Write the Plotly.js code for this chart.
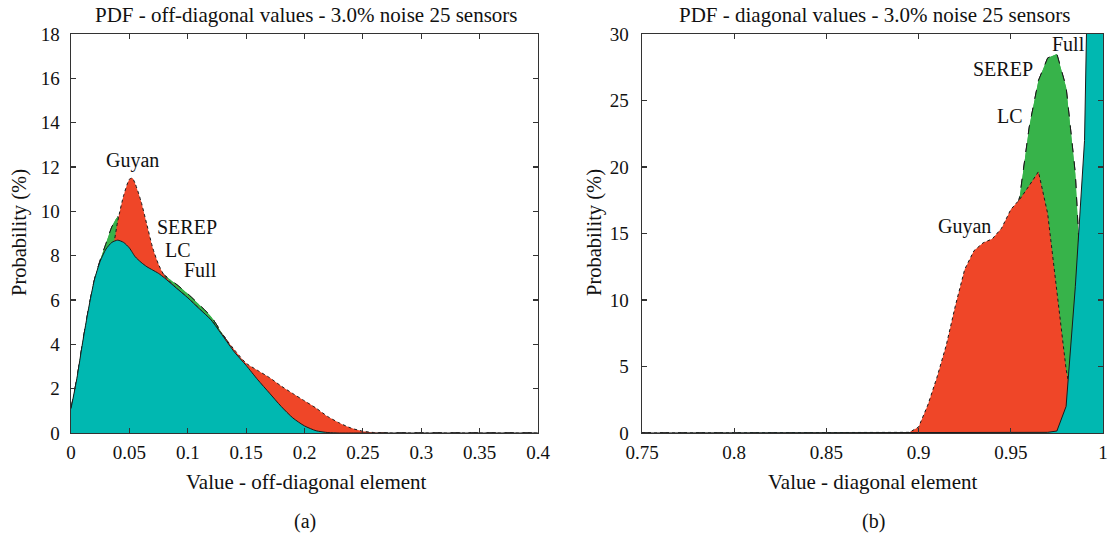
<!DOCTYPE html>
<html>
<head>
<meta charset="utf-8">
<script src="https://cdn.plot.ly/plotly-3.0.1.min.js"></script>
<style>html,body{margin:0;padding:0;background:#fff;}#chart{width:1110px;height:536px;}</style>
</head>
<body>
<div id="chart"></div>
<script>
// ---- (a) off-diagonal values ----
const xOff = [0, 0.005, 0.01, 0.015, 0.02, 0.025, 0.03, 0.035, 0.04, 0.045, 0.05, 0.0525, 0.055, 0.06, 0.065, 0.07, 0.075, 0.08, 0.09, 0.1, 0.11, 0.12, 0.13, 0.14, 0.15, 0.16, 0.17, 0.18, 0.19, 0.2, 0.21, 0.22, 0.23, 0.24, 0.25, 0.26, 0.27, 0.3, 0.35, 0.4];
const fullOff  = [1.1, 2.45, 4.1, 5.6, 6.9, 7.75, 8.3, 8.6, 8.7, 8.6, 8.35, 8.15, 7.95, 7.7, 7.5, 7.35, 7.2, 7.0, 6.55, 6.1, 5.6, 5.1, 4.38, 3.65, 3.05, 2.4, 1.8, 1.2, 0.68, 0.32, 0.1, 0.02, 0, 0, 0, 0, 0, 0, 0, 0];
const serepOff = [1.1, 2.45, 4.1, 5.6, 6.9, 7.8, 8.55, 9.3, 9.75, 9.5, 8.9, 8.6, 8.3, 7.9, 7.65, 7.45, 7.3, 7.12, 6.72, 6.28, 5.78, 5.25, 4.45, 3.67, 3.07, 2.42, 1.82, 1.22, 0.7, 0.33, 0.11, 0.02, 0, 0, 0, 0, 0, 0, 0, 0];
const lcOff    = [1.1, 2.45, 4.1, 5.6, 6.9, 7.8, 8.55, 9.3, 9.75, 9.5, 8.9, 8.6, 8.3, 7.9, 7.65, 7.45, 7.3, 7.12, 6.72, 6.28, 5.78, 5.25, 4.45, 3.67, 3.07, 2.42, 1.82, 1.22, 0.7, 0.33, 0.11, 0.02, 0, 0, 0, 0, 0, 0, 0, 0];
const guyanOff = [1.0, 2.3, 3.9, 5.4, 6.6, 7.4, 7.9, 8.2, 9.55, 10.7, 11.45, 11.5, 11.25, 10.45, 9.4, 8.35, 7.6, 7.1, 6.55, 6.1, 5.6, 5.1, 4.42, 3.75, 3.15, 2.82, 2.5, 2.12, 1.78, 1.45, 1.12, 0.74, 0.45, 0.22, 0.08, 0.02, 0, 0, 0, 0];
const ticksOffX = [0, 0.05, 0.1, 0.15, 0.2, 0.25, 0.3, 0.35, 0.4];
const ticksOffY = [0, 2, 4, 6, 8, 10, 12, 14, 16, 18];

// ---- (b) diagonal values ----
const xDiag = [0.75, 0.8, 0.85, 0.885, 0.89, 0.895, 0.9, 0.905, 0.91, 0.915, 0.92, 0.925, 0.93, 0.935, 0.94, 0.945, 0.95, 0.955, 0.96, 0.965, 0.97, 0.975, 0.98, 0.985, 0.99, 0.995, 1.0];
const fullDiag  = [0, 0, 0, 0, 0, 0, 0, 0, 0, 0, 0, 0, 0, 0, 0, 0, 0, 0, 0, 0, 0.05, 0.15, 2.0, 11.0, 22.0, 60, 90];
const serepDiag = [0, 0, 0, 0, 0, 0, 0, 0, 0, 0, 0, 0, 1.0, 3.0, 6.0, 10.0, 14.5, 17.9, 23.0, 26.5, 28.2, 28.5, 26.0, 19.5, 6.0, 0, 0];
const lcDiag    = [0, 0, 0, 0, 0, 0, 0, 0, 0, 0, 0, 0, 1.0, 3.0, 6.0, 10.0, 14.5, 17.9, 23.0, 26.5, 28.2, 28.5, 26.0, 19.5, 6.0, 0, 0];
const guyanDiag = [0, 0, 0, 0, 0, 0.05, 0.45, 2.1, 4.2, 6.6, 9.6, 12.3, 13.7, 14.3, 14.6, 15.4, 16.8, 17.6, 18.6, 19.65, 16.5, 10.5, 4.8, 1.0, 0, 0, 0];
const ticksDiagX = [0.75, 0.8, 0.85, 0.9, 0.95, 1];
const ticksDiagXText = ['0.75', '0.8', '0.85', '0.9', '0.95', '1'];
const ticksDiagY = [0, 5, 10, 15, 20, 25, 30];

const titleA = 'PDF - off-diagonal values - 3.0% noise 25 sensors';
const titleB = 'PDF - diagonal values - 3.0% noise 25 sensors';
const xLabelA = 'Value - off-diagonal element';
const xLabelB = 'Value - diagonal element';
const yLabel = 'Probability (%)';

const TEAL = '#00b8b1', GREEN = '#37b34a', RED = '#ef4628', EDGE = '#1a1a1a';
const FONT = 'Liberation Serif, Times New Roman, serif';

function area(x, y, color, dash, xa, ya, name, shape) {
  return {x: x, y: y, type: 'scatter', mode: 'lines', fill: 'tozeroy', fillcolor: color,
    line: {color: EDGE, width: 1, dash: dash, shape: shape, smoothing: 0.6}, xaxis: xa, yaxis: ya, name: name, showlegend: false, hoverinfo: 'skip'};
}

const data = [
  area(xOff, serepOff, GREEN, 'dash', 'x', 'y', 'SEREP', 'spline'),
  area(xOff, lcOff, GREEN, 'dash', 'x', 'y', 'LC', 'spline'),
  area(xOff, guyanOff, RED, 'dot', 'x', 'y', 'Guyan', 'spline'),
  area(xOff, fullOff, TEAL, 'solid', 'x', 'y', 'Full', 'spline'),
  area(xDiag, serepDiag, GREEN, 'dash', 'x2', 'y2', 'SEREP', 'linear'),
  area(xDiag, lcDiag, GREEN, 'dash', 'x2', 'y2', 'LC', 'linear'),
  area(xDiag, guyanDiag, RED, 'dot', 'x2', 'y2', 'Guyan', 'linear'),
  area(xDiag, fullDiag, TEAL, 'solid', 'x2', 'y2', 'Full', 'linear')
];

const axBase = {showline: true, mirror: 'ticks', ticks: 'inside', ticklen: 5, tickwidth: 1.2, tickcolor: '#333',
  linecolor: '#333', linewidth: 1.4, showgrid: false, zeroline: false, ticklabeloverflow: 'allow',
  tickfont: {family: FONT, size: 19, color: '#111'}};

const W = 1110, H = 536;
const yDom = [1 - 433 / H, 1 - 34 / H];

function note(text, xref, yref, x, y, size, angle) {
  return {text: text, xref: xref, yref: yref, x: x, y: y, xanchor: 'center', yanchor: 'middle',
    showarrow: false, textangle: angle || 0, font: {family: FONT, size: size, color: '#111'}};
}
const P = 'paper';

const layout = {
  width: W, height: H, margin: {l: 0, r: 0, t: 0, b: 0}, paper_bgcolor: '#fff', plot_bgcolor: '#fff',
  font: {family: FONT, size: 19, color: '#111'},
  xaxis: Object.assign({}, axBase, {domain: [71 / W, 538 / W], range: [0, 0.4], tickvals: ticksOffX, anchor: 'y', ticklabelstandoff: 2}),
  yaxis: Object.assign({}, axBase, {domain: yDom, range: [0, 18], tickvals: ticksOffY, anchor: 'x', ticklabelstandoff: 6}),
  xaxis2: Object.assign({}, axBase, {domain: [642 / W, 1103 / W], range: [0.75, 1.00001], tickvals: ticksDiagX, ticktext: ticksDiagXText, anchor: 'y2', ticklabelstandoff: 2}),
  yaxis2: Object.assign({}, axBase, {domain: yDom, range: [0, 30], tickvals: ticksDiagY, anchor: 'x2', ticklabelstandoff: 8}),
  annotations: [
    note(titleA, P, P, 306 / W, 1 - 15 / H, 21),
    note(titleB, P, P, 874 / W, 1 - 15 / H, 21),
    note(xLabelA, P, P, 306 / W, 1 - 482 / H, 21),
    note(xLabelB, P, P, 872 / W, 1 - 482 / H, 21),
    note(yLabel, P, P, 20 / W, 1 - 233 / H, 20.5, -90),
    note(yLabel, P, P, 595 / W, 1 - 233 / H, 20.5, -90),
    note('(a)', P, P, 305 / W, 1 - 521 / H, 20),
    note('(b)', P, P, 873 / W, 1 - 521 / H, 20),
    note('Guyan', 'x', 'y', 0.053, 12.3, 20),
    note('SEREP', 'x', 'y', 0.099, 9.3, 20),
    note('LC', 'x', 'y', 0.092, 8.25, 20),
    note('Full', 'x', 'y', 0.111, 7.35, 20),
    note('Full', 'x2', 'y2', 0.9815, 29.25, 20),
    note('SEREP', 'x2', 'y2', 0.946, 27.35, 20),
    note('LC', 'x2', 'y2', 0.9496, 23.8, 20),
    note('Guyan', 'x2', 'y2', 0.9249, 15.5, 20)
  ]
};

Plotly.newPlot('chart', data, layout, {displayModeBar: false, staticPlot: true});
</script>
</body>
</html>
